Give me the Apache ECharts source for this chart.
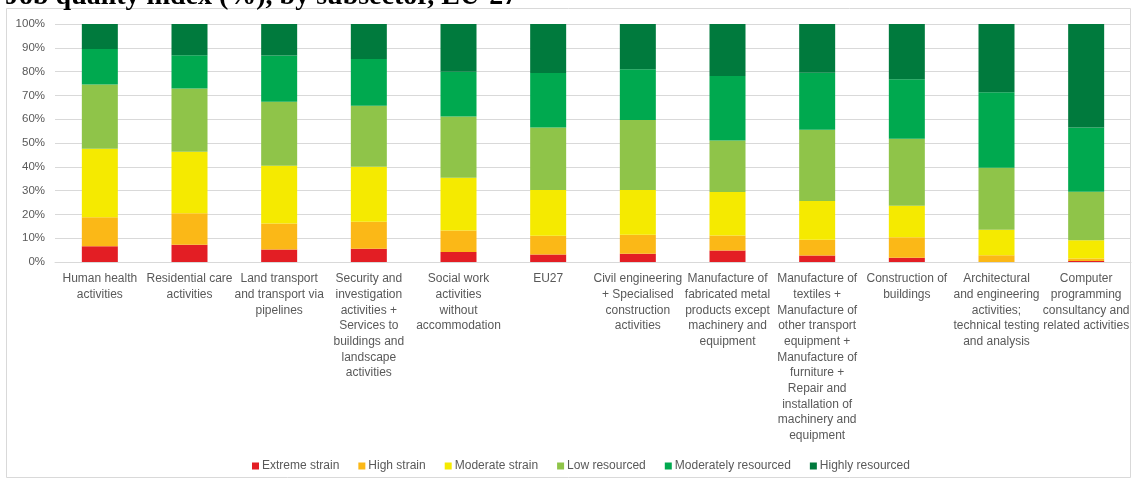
<!DOCTYPE html>
<html>
<head>
<meta charset="utf-8">
<script src="https://cdn.jsdelivr.net/npm/echarts@6/dist/echarts.min.js"></script>
<style>
html,body{margin:0;padding:0;background:#fff;}
#c{width:1136px;height:479px;}
</style>
</head>
<body>
<div id="c"></div>
<script>
var categories = [
  "Human health\nactivities",
  "Residential care\nactivities",
  "Land transport\nand transport via\npipelines",
  "Security and\ninvestigation\nactivities +\nServices to\nbuildings and\nlandscape\nactivities",
  "Social work\nactivities\nwithout\naccommodation",
  "EU27",
  "Civil engineering\n+ Specialised\nconstruction\nactivities",
  "Manufacture of\nfabricated metal\nproducts except\nmachinery and\nequipment",
  "Manufacture of\ntextiles +\nManufacture of\nother transport\nequipment +\nManufacture of\nfurniture +\nRepair and\ninstallation of\nmachinery and\nequipment",
  "Construction of\nbuildings",
  "Architectural\nand engineering\nactivities;\ntechnical testing\nand analysis",
  "Computer\nprogramming\nconsultancy and\nrelated activities"
];
var extremeStrain      = [6.6, 7.3, 5.3, 5.6, 4.2, 3.2, 3.5, 4.8, 2.7, 1.8, 0.0, 0.4];
var highStrain         = [12.2, 13.2, 10.9, 11.3, 9.0, 7.8, 8.0, 6.3, 6.6, 8.6, 2.8, 1.1];
var moderateStrain     = [28.8, 25.8, 24.2, 23.1, 22.2, 19.2, 18.7, 18.3, 16.3, 13.2, 10.7, 7.6];
var lowResourced       = [27.0, 26.6, 26.9, 25.6, 25.7, 26.3, 29.5, 21.7, 30.0, 28.2, 26.1, 20.4];
var moderatelyResourced= [14.9, 14.0, 19.5, 19.7, 18.8, 22.9, 21.3, 27.1, 23.9, 25.0, 31.7, 27.0];
var highlyResourced    = [10.5, 13.1, 13.2, 14.7, 20.1, 20.6, 19.0, 21.8, 20.5, 23.2, 28.7, 43.5];

var seriesDefs = [
  ["Extreme strain", extremeStrain, "#E31E24"],
  ["High strain", highStrain, "#FBB817"],
  ["Moderate strain", moderateStrain, "#F5EA00"],
  ["Low resourced", lowResourced, "#8FC449"],
  ["Moderately resourced", moderatelyResourced, "#00A94F"],
  ["Highly resourced", highlyResourced, "#007A3D"]
];

var chart = echarts.init(document.getElementById('c'), null, {renderer:'canvas'});
chart.setOption({
  animation: false,
  backgroundColor: '#fff',
  graphic: [
    {type:'rect', shape:{x:6.5, y:8.5, width:1124, height:469}, style:{fill:'none', stroke:'#d9d9d9', lineWidth:1}, z:0},
    {type:'text', x:5, y:-3.5, style:{text:'Job quality index (%), by subsector, EU-27', font:'bold 28px "Liberation Serif", "DejaVu Serif", serif', fill:'#000', verticalAlign:'middle', align:'left'}, z:10}
  ],
  grid: {left:55, right:5, top:24, bottom:217, containLabel:false},
  legend: {
    left: 247, top: 455,
    itemWidth: 7, itemHeight: 7, itemGap: 19, icon: 'rect',
    textStyle: {fontFamily:'"Liberation Sans", Arial, sans-serif', fontSize:12, color:'#595959', padding:[0,0,0,-2]},
    data: seriesDefs.map(function(s){return s[0];})
  },
  xAxis: {
    type:'category', data: categories,
    axisLine:{show:true, lineStyle:{color:'#d9d9d9'}},
    axisTick:{show:false},
    axisLabel:{interval:0, margin:9, fontFamily:'"Liberation Sans", Arial, sans-serif', fontSize:12, lineHeight:15.7, color:'#595959', verticalAlign:'top'}
  },
  yAxis: {
    type:'value', min:0, max:100, interval:10,
    axisLine:{show:false}, axisTick:{show:false},
    splitLine:{lineStyle:{color:'#d9d9d9', width:1}},
    axisLabel:{formatter: function(v){return v + '%';}, margin:10, fontFamily:'"Liberation Sans", Arial, sans-serif', fontSize:11.5, color:'#595959'}
  },
  series: seriesDefs.map(function(s){
    return {name:s[0], type:'bar', stack:'total', data:s[1], barWidth:36, itemStyle:{color:s[2]}};
  })
});
</script>
</body>
</html>
